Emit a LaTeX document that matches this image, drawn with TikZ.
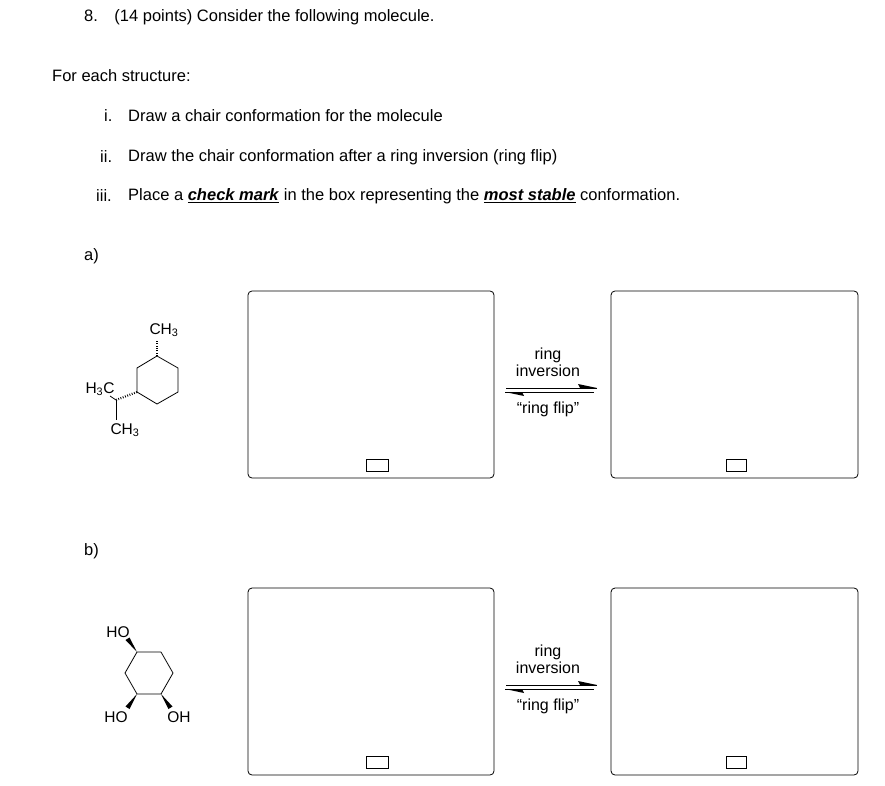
\documentclass[tikz,border=0pt]{standalone}
\usepackage{fontspec}
\setmainfont{Liberation Sans}
\usetikzlibrary{arrows.meta}
\begin{document}
\begin{tikzpicture}[x=1pt,y=-1pt,
  txt/.style={anchor=west,inner sep=0pt,font=\fontsize{16.5}{18}\selectfont},
  lbl/.style={inner sep=0pt,font=\fontsize{16}{18}\selectfont},
  atom/.style={inner sep=0.5pt,font=\fontsize{15.5}{17}\selectfont},
  panel/.style={draw,rounded corners=4pt,line width=0.8pt},
  cbox/.style={draw,line width=0.8pt},
  bond/.style={line width=0.8pt},
  hash/.style={dash pattern=on 0.8pt off 1.6pt,line width=2.2pt},
  wedge/.style={fill=black}]
\useasboundingbox (0,0) rectangle (885,786);
\node[txt] (t0) at (84,17) {8.\quad(14 points) Consider the following molecule.};
\node[txt] (t1) at (52,76) {For each structure:};
\node[txt] (n1) at (104,116) {i.};
\node[txt] (s1) at (128,116) {Draw a chair conformation for the molecule};
\node[txt] (n2) at (100,157) {ii.};
\node[txt] (s2) at (128,157) {Draw the chair conformation after a ring inversion (ring flip)};
\node[txt] (n3) at (96,196) {iii.};
\node[txt] (s3) at (128,196) {Place a \textbf{\underline{\textit{check mark}}} in the box representing the \textbf{\underline{\textit{most stable}}} conformation.};
\node[txt] (la) at (84,256) {a)};
\node[txt] (lb) at (84,551) {b)};
% panels
\foreach \dy/\n in {0/a,297/b}{
  \draw[panel] (248,291+\dy) rectangle (494,478+\dy);
  \draw[panel] (611,291+\dy) rectangle (858,478+\dy);
  \draw[cbox] (366,459+\dy) rectangle (388,471+\dy);
  \draw[cbox] (726,459+\dy) rectangle (746,471+\dy);
  \node[lbl] at (548,355+\dy) {ring};
  \node[lbl] at (548,371+\dy) {inversion};
  \node[lbl] at (548,409+\dy) {``ring flip''};
  \draw[bond] (506,388+\dy) -- (597,388+\dy);
  \fill (597,388+\dy) -- (578,384+\dy) -- (580,388+\dy) -- cycle;
  \draw[bond] (505,392+\dy) -- (594,392+\dy);
  \fill (505,392+\dy) -- (524,396+\dy) -- (522,392+\dy) -- cycle;
}
% molecule a
\coordinate (a1) at (157,356);
\coordinate (a2) at (178,368);
\coordinate (a3) at (178,392);
\coordinate (a4) at (157,404);
\coordinate (a5) at (137,392);
\coordinate (a6) at (137,368);
\draw[bond,line join=round] (a1)--(a2)--(a3)--(a4)--(a5)--(a6)--cycle;
\node[atom] (me1) at (164,330) {CH\textsubscript{3}};
\draw[hash] (a1) -- (157,340);
\coordinate (ip) at (116,400);
\draw[hash] (a5) -- (ip);
\node[atom] (me2) at (100,389) {H\textsubscript{3}C};
\draw[bond] (ip) -- (110,396);
\node[atom] (me3) at (125,430) {CH\textsubscript{3}};
\draw[bond] (ip) -- (116,420);
% molecule b
\coordinate (b1) at (137,652);
\coordinate (b2) at (161,652);
\coordinate (b3) at (173,673);
\coordinate (b4) at (161,694);
\coordinate (b5) at (137,694);
\coordinate (b6) at (125,673);
\draw[bond,line join=round] (b1)--(b2)--(b3)--(b4)--(b5)--(b6)--cycle;
\node[atom] (o1) at (118,632) {HO};
\node[atom] (o2) at (116,717) {HO};
\node[atom] (o3) at (179,717) {OH};
\fill[wedge] (b1) -- (125.5,640) -- (129.5,637.5) -- cycle;
\fill[wedge] (b5) -- (125.5,706.5) -- (129.5,709) -- cycle;
\fill[wedge] (b4) -- (168.5,709) -- (172.5,706.5) -- cycle;
\end{tikzpicture}
\end{document}
